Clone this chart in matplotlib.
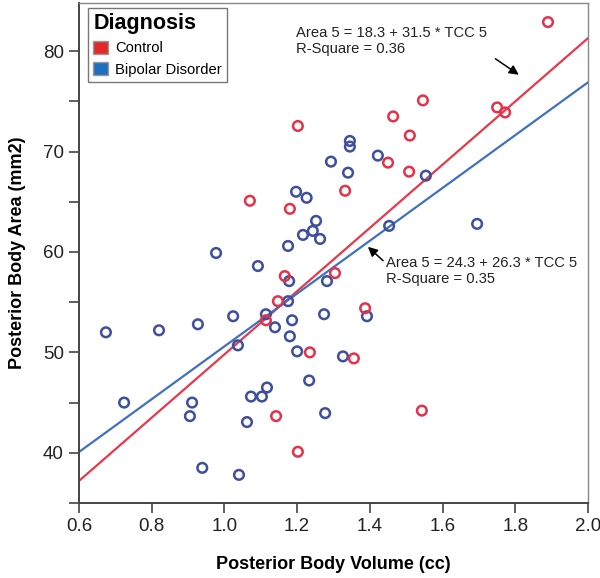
import numpy as np
import matplotlib
matplotlib.use("Agg")
import matplotlib.pyplot as plt
from matplotlib.patches import Patch
from matplotlib.ticker import MultipleLocator

plt.rcParams['font.family'] = ['Liberation Sans', 'DejaVu Sans']

# Control group (posterior body volume cc, area mm2)
control_x = [1.89, 1.546, 1.464, 1.202, 1.510, 1.750, 1.772, 1.450, 1.508, 1.332,
             1.070, 1.180, 1.166, 1.147, 1.114, 1.142, 1.202, 1.304, 1.235, 1.356,
             1.387, 1.543]
control_y = [82.9, 75.1, 73.5, 72.55, 71.6, 74.4, 73.9, 68.9, 68.0, 66.1,
             65.1, 64.3, 57.6, 55.1, 53.2, 43.65, 40.1, 57.9, 50.0, 49.4,
             54.4, 44.2]

# Bipolar disorder group
bipolar_x = [0.674, 0.724, 0.820, 0.905, 0.911, 0.927, 0.939, 0.977, 1.024, 1.037,
             1.040, 1.062, 1.073, 1.092, 1.103, 1.114, 1.117, 1.139, 1.175, 1.175,
             1.178, 1.180, 1.186, 1.197, 1.200, 1.216, 1.226, 1.233, 1.243, 1.252,
             1.263, 1.274, 1.277, 1.282, 1.293, 1.326, 1.340, 1.345, 1.345, 1.392,
             1.422, 1.453, 1.554, 1.695]
bipolar_y = [52.0, 45.0, 52.2, 43.65, 45.0, 52.8, 38.5, 59.9, 53.6, 50.7,
             37.8, 43.06, 45.6, 58.6, 45.6, 53.8, 46.5, 52.5, 55.1, 60.6,
             57.1, 51.6, 53.2, 66.0, 50.1, 61.7, 65.4, 47.2, 62.1, 63.1,
             61.3, 53.8, 43.95, 57.1, 69.0, 49.6, 67.9, 71.06, 70.5, 53.6,
             69.6, 62.6, 67.6, 62.8]

# regression fits (intercept, slope) as printed on the chart
control_fit = (18.3, 31.5)
bipolar_fit = (24.3, 26.3)

red = '#e3324a'
blue = '#3d4f9e'
red_line = '#e8384a'
blue_line = '#4070c0'

fig = plt.figure(figsize=(6.0, 5.78), dpi=100)
ax = fig.add_axes([0.1317, 0.1298, 0.8483, 0.865])

ax.scatter(bipolar_x, bipolar_y, s=48, facecolors='none', edgecolors=blue, linewidths=1.8, zorder=3)
ax.scatter(control_x, control_y, s=48, facecolors='none', edgecolors=red, linewidths=1.8, zorder=3)

xs = np.array([0.6, 2.0])
ax.plot(xs, control_fit[0] + control_fit[1] * xs, color=red_line, lw=1.6, zorder=2)
ax.plot(xs, bipolar_fit[0] + bipolar_fit[1] * xs, color=blue_line, lw=1.6, zorder=2)

ax.set_xlim(0.6, 2.0)
ax.set_ylim(35, 84.8)
ax.set_xticks(np.arange(0.6, 2.01, 0.2))
ax.set_xticklabels(['0.6', '0.8', '1.0', '1.2', '1.4', '1.6', '1.8', '2.0'])
ax.set_yticks([40, 50, 60, 70, 80])
ax.yaxis.set_minor_locator(MultipleLocator(5))
ax.tick_params(axis='both', which='major', labelsize=13.5, length=7, width=1.2,
               color='#444444', labelcolor='#222222', pad=4)
ax.tick_params(axis='y', which='minor', length=7, width=1.2, color='#444444')

for side in ['left', 'bottom']:
    ax.spines[side].set_color('#444444')
    ax.spines[side].set_linewidth(1.4)
for side in ['top', 'right']:
    ax.spines[side].set_color('#888888')
    ax.spines[side].set_linewidth(1.0)

ax.set_xlabel('Posterior Body Volume (cc)', fontsize=13, fontweight='bold', labelpad=15)
ax.set_ylabel('Posterior Body Area (mm2)', fontsize=13, fontweight='bold', labelpad=12)

ax.text(1.197, 81.0, 'Area 5 = 18.3 + 31.5 * TCC 5\nR-Square = 0.36', fontsize=10.6,
        va='center', ha='left', linespacing=1.2, color='#222222')
ax.annotate('', xy=(1.816, 77.5), xytext=(1.739, 79.4),
            arrowprops=dict(arrowstyle='-|>', color='black', lw=1.1, mutation_scale=14))

ax.text(1.445, 58.1, 'Area 5 = 24.3 + 26.3 * TCC 5\nR-Square = 0.35', fontsize=10.6,
        va='center', ha='left', linespacing=1.2, color='#222222')
ax.annotate('', xy=(1.389, 60.7), xytext=(1.442, 58.95),
            arrowprops=dict(arrowstyle='-|>', color='black', lw=1.1, mutation_scale=14))

handles = [Patch(facecolor='#e02a2a', edgecolor='#999999', label='Control'),
           Patch(facecolor='#1f6fc0', edgecolor='#999999', label='Bipolar Disorder')]
leg = ax.legend(handles=handles, title='Diagnosis', loc='upper left', fontsize=10.6,
                bbox_to_anchor=(0.018, 0.99), borderaxespad=0, frameon=True, fancybox=False,
                edgecolor='#555555', handlelength=1.0, handleheight=1.0,
                handletextpad=0.5, borderpad=0.35, labelspacing=0.45)
leg.get_title().set_fontweight('bold')
leg.get_title().set_fontsize(15.5)
leg._legend_box.align = 'left'
leg.get_frame().set_linewidth(1.0)

fig.savefig('out.png', dpi=100)
